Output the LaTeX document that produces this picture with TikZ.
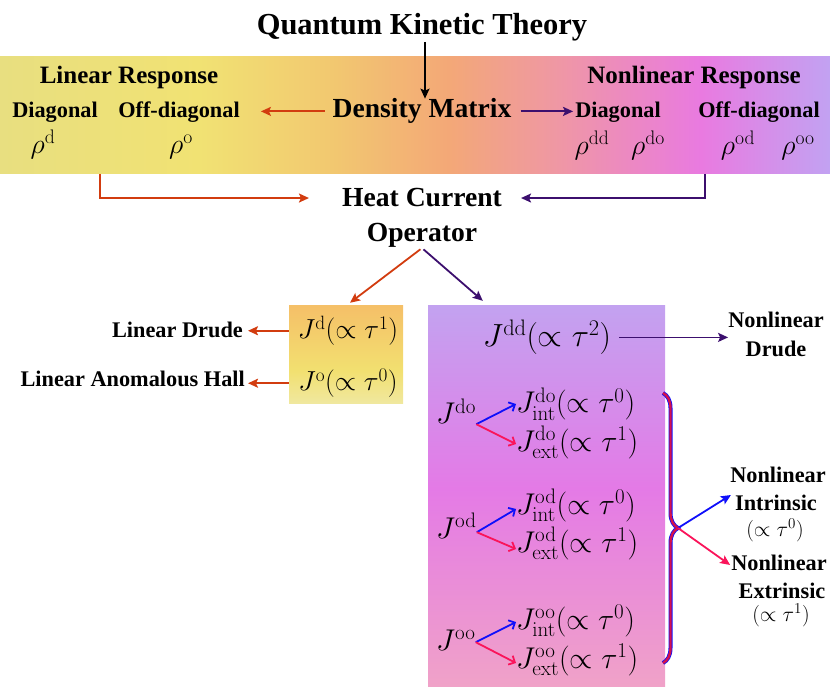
\RequirePackage{fix-cm}
\documentclass[tikz,border=0pt]{standalone}
\usepackage[no-math]{fontspec}
\setmainfont{Liberation Serif}
\usetikzlibrary{arrows.meta,decorations.pathreplacing}
\definecolor{cOr}{RGB}{210,60,15}
\definecolor{cPu}{RGB}{60,15,110}
\definecolor{cBl}{RGB}{15,15,250}
\definecolor{cPk}{RGB}{250,20,90}
\definecolor{ba}{HTML}{E8DF80}
\definecolor{bb}{HTML}{F1E273}
\definecolor{bc}{HTML}{F2C870}
\definecolor{bd}{HTML}{F3A877}
\definecolor{be}{HTML}{EF97A5}
\definecolor{bf}{HTML}{E97AE0}
\definecolor{bg}{HTML}{C2A2F2}
\definecolor{la}{HTML}{F0E8A0}
\definecolor{lb}{HTML}{F2E070}
\definecolor{lc}{HTML}{F5C068}
\definecolor{na}{HTML}{F0A2C8}
\definecolor{nb}{HTML}{E47AE6}
\definecolor{nc}{HTML}{C3A2F0}
\pgfdeclarehorizontalshading{bandshade}{100bp}{color(0bp)=(ba); color(25bp)=(ba); color(37bp)=(bb); color(45bp)=(bc); color(52bp)=(bd); color(58.7bp)=(be); color(67.2bp)=(bf); color(75bp)=(bg); color(100bp)=(bg)}
\pgfdeclareverticalshading{linshade}{100bp}{color(0bp)=(la); color(25bp)=(la); color(42bp)=(lb); color(75bp)=(lc); color(100bp)=(lc)}
\pgfdeclareverticalshading{nlshade}{100bp}{color(0bp)=(na); color(25bp)=(na); color(51bp)=(nb); color(75bp)=(nc); color(100bp)=(nc)}
\newcommand\fTitle{\fontsize{30.5}{36}\selectfont\bfseries}
\newcommand\fBig{\fontsize{27.6}{33}\selectfont\bfseries}
\newcommand\fHead{\fontsize{25}{30}\selectfont\bfseries}
\newcommand\fLab{\fontsize{22.3}{27}\selectfont\bfseries}
\newcommand\mRho{\fontsize{28}{32}\selectfont}
\newcommand\mLin{\fontsize{27.5}{32}\selectfont}
\newcommand\mDD{\fontsize{32}{38}\selectfont}
\newcommand\mNL{\fontsize{30}{35}\selectfont}
\newcommand\mSm{\fontsize{21.5}{25}\selectfont}
\begin{document}
\begin{tikzpicture}[x=1pt,y=-1pt,
  txt/.style={inner sep=0pt, anchor=base},
  txw/.style={inner sep=0pt, anchor=base west},
  txe/.style={inner sep=0pt, anchor=base east},
  arrO/.style={draw=cOr, line width=1.8pt, -{Stealth[length=10pt,width=9pt,inset=2pt]}},
  arrP/.style={draw=cPu, line width=1.8pt, -{Stealth[length=10pt,width=9pt,inset=2pt]}},
  arrK/.style={draw=black, line width=1.6pt, -{Stealth[length=10pt,width=9pt,inset=2pt]}},
  arrB/.style={draw=cBl, line width=1.8pt, -{Straight Barb[length=5pt,width=10pt]}},
  arrR/.style={draw=cPk, line width=1.8pt, -{Straight Barb[length=5pt,width=10pt]}},
  arrBs/.style={draw=cBl, line width=1.8pt, -{Stealth[length=10pt,width=9pt,inset=2pt]}},
  arrRs/.style={draw=cPk, line width=1.8pt, -{Stealth[length=10pt,width=9pt,inset=2pt]}},
  panel/.style={inner sep=0pt, draw=none}]
\useasboundingbox (0,0) rectangle (830,692);
% band
\node[panel, shade, shading=bandshade, minimum width=830pt, minimum height=117pt] (band) at (415,115.5) {};
\node[txt] (title) at (422,35) {\fTitle Quantum Kinetic Theory};
\node[txt] (lresp) at (129,84) {\fHead Linear Response};
\node[txt] (ldiag) at (55,118) {\fLab Diagonal};
\node[txt] (loff) at (179,118) {\fLab Off-diagonal};
\node[txt] (rhod) at (43,154) {\mRho$\rho^{\mathrm{d}}$};
\node[txt] (rhoo) at (181,154) {\mRho$\rho^{\mathrm{o}}$};
\node[txt] (dm) at (422,118) {\fBig Density Matrix};
\node[txt] (nresp) at (694,84) {\fHead Nonlinear Response};
\node[txt] (ndiag) at (618,118) {\fLab Diagonal};
\node[txt] (noff) at (759,118) {\fLab Off-diagonal};
\node[txt] (rhodd) at (592,155) {\mRho$\rho^{\mathrm{dd}}$};
\node[txt] (rhodo) at (648,155) {\mRho$\rho^{\mathrm{do}}$};
\node[txt] (rhood) at (738,155) {\mRho$\rho^{\mathrm{od}}$};
\node[txt] (rhooo) at (798,155) {\mRho$\rho^{\mathrm{oo}}$};
\draw[arrK] ([xshift=3pt]title.south) -- ([xshift=3pt]dm.north);
\draw[arrO, shorten <=8pt, shorten >=21pt] (dm.west) -- (dm.west -| loff.east);
\draw[arrP, shorten <=9pt, shorten >=2pt] (dm.east) -- (dm.east -| ndiag.west);
% heat current
\node[txt] (heat) at (422,207) {\fBig Heat Current};
\node[txt] (oper) at (422,242) {\fBig Operator};
\coordinate (oStart) at (100,174);
\coordinate (pStart) at (705,174);
\draw[arrO, shorten >=33pt] (oStart) |- (heat.west);
\draw[arrP, shorten >=19pt] (pStart) |- (heat.east);
% linear box
\node[panel, shade, shading=linshade, minimum width=114pt, minimum height=98pt] (linbox) at (346,355) {};
\node[txt] (jd) at (348,339) {\mLin$J^{\mathrm{d}}(\propto\tau^{1})$};
\node[txt] (jo) at (348,391) {\mLin$J^{\mathrm{o}}(\propto\tau^{0})$};
\node[txe] (ldrude) at (243,338) {\fLab Linear Drude};
\node[txe] (lahe) at (245,387) {\fLab Linear Anomalous Hall};
\draw[arrO, shorten >=5pt] (jd.west -| linbox.west) -- (jd.west -| ldrude.east);
\draw[arrO, shorten >=3pt] (jo.west -| linbox.west) -- (jo.west -| lahe.east);
% nonlinear box
\node[panel, shade, shading=nlshade, minimum width=237pt, minimum height=380pt] (nlbox) at (546.5,496) {};
\draw[arrO, shorten <=2pt, shorten >=5pt] (oper.south) -- (linbox.north);
\draw[arrP, shorten <=2pt] (oper.south) -- ([xshift=55pt,yshift=5pt]nlbox.north west);
\node[txt] (jdd) at (547,347) {\mDD$J^{\mathrm{dd}}(\propto\tau^{2})$};
\node[txt] (nldr) at (776,328) {\fLab Nonlinear};
\node[txt] (nldr2) at (776,357) {\fLab Drude};
\draw[arrP, shorten <=8pt] (jdd.east) -- (jdd.east -| nldr.west);
% do
\node[txw] (jdo) at (436,424) {\mNL$J^{\mathrm{do}}$};
\node[txw] (jdoi) at (516,413) {\mNL$J^{\mathrm{do}}_{\mathrm{int}}(\propto\tau^{0})$};
\node[txw] (jdoe) at (516,451) {\mNL$J^{\mathrm{do}}_{\mathrm{ext}}(\propto\tau^{1})$};
\draw[arrB] (jdo.south east) -- ([yshift=9pt]jdoi.base west);
\draw[arrR] (jdo.south east) -- ([yshift=7pt]jdoe.base west);
% od
\node[txw] (jod) at (436,538) {\mNL$J^{\mathrm{od}}$};
\node[txw] (jodi) at (516,514) {\mNL$J^{\mathrm{od}}_{\mathrm{int}}(\propto\tau^{0})$};
\node[txw] (jode) at (516,552) {\mNL$J^{\mathrm{od}}_{\mathrm{ext}}(\propto\tau^{1})$};
\draw[arrB] ([yshift=6pt]jod.south east) -- ([yshift=5pt]jodi.base west);
\draw[arrR] ([yshift=6pt]jod.south east) -- ([yshift=3pt]jode.base west);
% oo
\node[txw] (joo) at (436,650) {\mNL$J^{\mathrm{oo}}$};
\node[txw] (jooi) at (516,629) {\mNL$J^{\mathrm{oo}}_{\mathrm{int}}(\propto\tau^{0})$};
\node[txw] (jooe) at (516,668) {\mNL$J^{\mathrm{oo}}_{\mathrm{ext}}(\propto\tau^{1})$};
\draw[arrB] ([yshift=8pt]joo.south east) -- ([yshift=7pt]jooi.base west);
\draw[arrR] ([yshift=8pt]joo.south east) -- ([yshift=5pt]jooe.base west);
% brace
\coordinate (btop) at (663,393);
\coordinate (bbot) at (663,663);
\coordinate (btip) at (678,528);
\draw[cBl, line width=4pt, decorate, decoration={brace, amplitude=15pt}] (btop) -- (bbot);
\draw[cPk!85!black, line width=2.4pt, decorate, decoration={brace, amplitude=15pt}] (btop) -- (bbot);
% right labels
\node[txt] (nli1) at (778,482) {\fLab Nonlinear};
\node[txt] (nli2) at (776,510) {\fLab Intrinsic};
\node[txt] (nli3) at (775,536) {\mSm$(\propto\tau^{0})$};
\node[txt] (nle1) at (779,570) {\fLab Nonlinear};
\node[txt] (nle2) at (782,598) {\fLab Extrinsic};
\node[txt] (nle3) at (781,621) {\mSm$(\propto\tau^{1})$};
\draw[arrBs] (btip) -- ([xshift=-4pt,yshift=15pt]nli2.base west);
\draw[arrRs] (btip) -- ([xshift=-1pt,yshift=5pt]nle1.base west);
\end{tikzpicture}
\end{document}
